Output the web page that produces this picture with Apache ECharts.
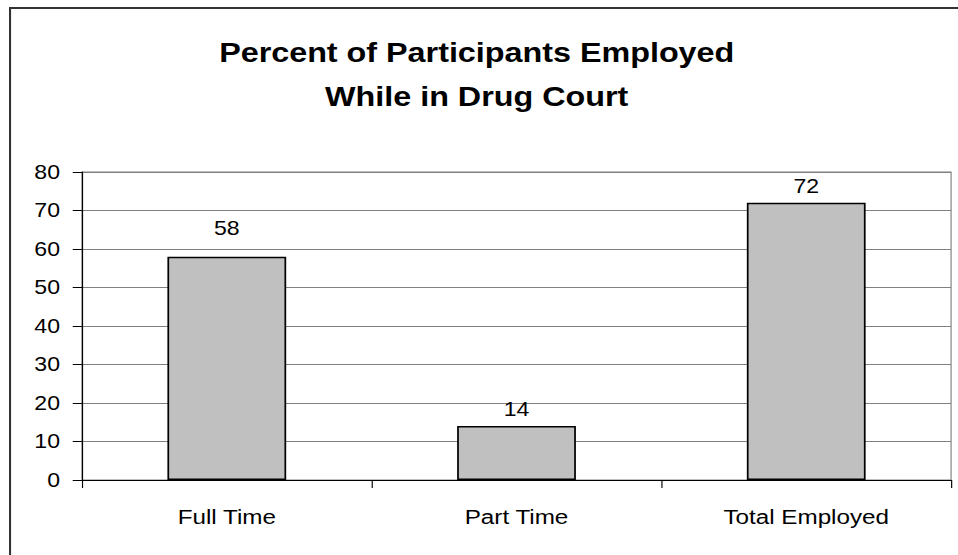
<!DOCTYPE html>
<html>
<head>
<meta charset="utf-8">
<script src="https://cdn.jsdelivr.net/npm/echarts@6/dist/echarts.min.js"></script>
<style>
  html, body { margin: 0; padding: 0; background: #fff; overflow: hidden; }
  /* The chart is laid out on a narrower canvas and widened horizontally,
     giving the wide, stretched lettering of the original slide graphic. */
  #chart { width: 830px; height: 555px; transform: scaleX(1.15422); transform-origin: 0 0; }
</style>
</head>
<body>
<div id="chart"></div>
<script>
const categories = ['Full Time', 'Part Time', 'Total Employed'];
const percentEmployed = [58, 14, 72];
const yTicks = { min: 0, max: 80, interval: 10 };

const FONT = '"Liberation Sans", Arial, Helvetica, sans-serif';

const chart = echarts.init(document.getElementById('chart'), null, { renderer: 'svg' });

const barData = percentEmployed.map((v, i) => {
  const item = { value: v };
  // the first label sits a little higher above its bar
  if (i === 0) item.label = { distance: 19 };
  return item;
});

chart.setOption({
  animation: false,
  backgroundColor: '#ffffff',
  title: {
    text: 'Percent of Participants Employed\nWhile in Drug Court',
    left: 408,
    textAlign: 'center',
    top: 25,
    textStyle: {
      fontFamily: FONT,
      fontWeight: 'bold',
      fontSize: 28,
      lineHeight: 44,
      color: '#000'
    }
  },
  graphic: [{
    type: 'polyline',
    silent: true,
    shape: { points: [[8.7, 600], [8.7, 8], [900, 8]] },
    style: { stroke: '#333', lineWidth: 1.8, fill: null }
  }],
  grid: {
    left: 71,
    right: 6,
    top: 172,
    bottom: 75,
    show: true,
    backgroundColor: '#fff',
    borderColor: '#808080',
    borderWidth: 1
  },
  xAxis: {
    type: 'category',
    data: categories,
    axisLine: { show: true, lineStyle: { color: '#000', width: 1 } },
    axisTick: { show: true, alignWithLabel: false, length: 8, lineStyle: { color: '#000' } },
    axisLabel: { fontFamily: FONT, fontSize: 21, color: '#000', margin: 26 },
    splitLine: { show: false }
  },
  yAxis: {
    type: 'value',
    min: yTicks.min,
    max: yTicks.max,
    interval: yTicks.interval,
    axisLine: { show: true, lineStyle: { color: '#000', width: 1 } },
    axisTick: { show: true, length: 8, lineStyle: { color: '#000' } },
    axisLabel: { fontFamily: FONT, fontSize: 20, color: '#000', margin: 19 },
    splitLine: { show: true, lineStyle: { color: '#808080', width: 1 } }
  },
  series: [{
    type: 'bar',
    data: barData,
    barWidth: '41%',
    itemStyle: { color: '#C0C0C0', borderColor: '#000', borderWidth: 1.5 },
    label: {
      show: true,
      position: 'top',
      distance: 7,
      fontFamily: FONT,
      fontSize: 20,
      color: '#000'
    }
  }]
});
</script>
</body>
</html>
